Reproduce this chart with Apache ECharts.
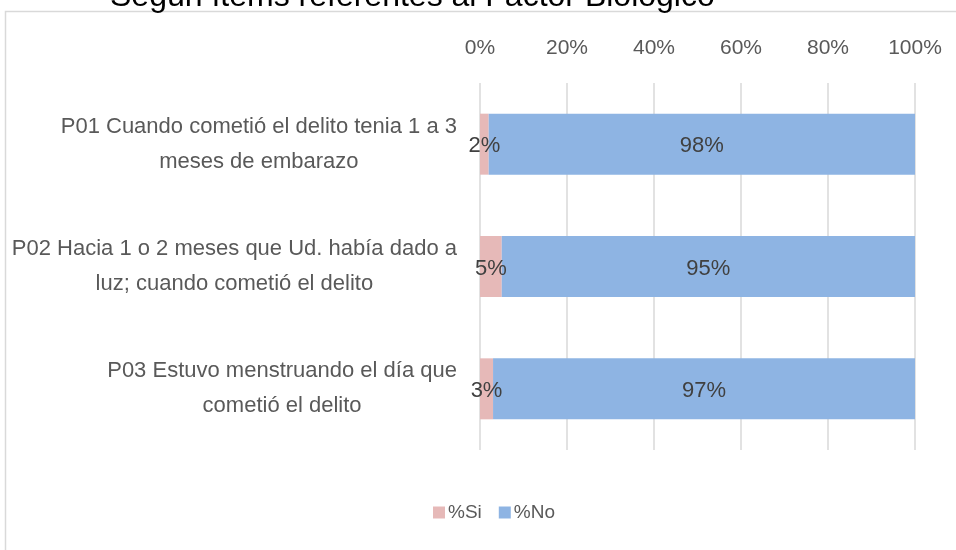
<!DOCTYPE html>
<html>
<head>
<meta charset="utf-8">
<script src="https://cdn.jsdelivr.net/npm/echarts@6/dist/echarts.min.js"></script>
<style>
  html, body { margin: 0; padding: 0; background: #fff; }
  #main { width: 956px; height: 550px; }
</style>
</head>
<body>
<div id="main"></div>
<script>
// datos del grafico
var preguntas = [
    'P01 Cuando cometió el delito tenia 1 a 3\nmeses de embarazo',
    'P02 Hacia 1 o 2 meses que Ud. había dado a\nluz; cuando cometió el delito',
    'P03 Estuvo menstruando el día que\ncometió el delito'
];
var valSi = [2, 5, 3];
var valNo = [98, 95, 97];
var nombres = ['%Si', '%No'];
var colores = ['#e6b9b8', '#8eb4e3'];

var fuente = '"Liberation Sans", Arial, sans-serif';
var mChart = echarts.init(document.getElementById('main'));

var option = {
    animation: false,
    title: {
        text: 'Según ítems referentes al Factor Biológico',
        left: 105,
        top: -24,
        textStyle: {
            fontFamily: fuente,
            fontSize: 32,
            fontWeight: 'normal',
            color: '#000'
        }
    },
    graphic: [{
        type: 'rect',
        shape: {x: 5.5, y: 11.5, width: 1000, height: 600},
        style: {fill: 'none', stroke: '#d9d9d9', lineWidth: 1.5},
        silent: true
    }],
    legend: {
        data: nombres,
        left: 428,
        top: 498,
        itemWidth: 12,
        itemHeight: 12,
        itemGap: 17,
        icon: 'rect',
        textStyle: {fontFamily: fuente, fontSize: 19, color: '#595959', padding: [0, 0, 0, -2]}
    },
    grid: {
        left: 480,
        right: 41,
        top: 83,
        bottom: 100,
        containLabel: false
    },
    xAxis: {
        type: 'value',
        position: 'top',
        min: 0,
        max: 100,
        interval: 20,
        axisLine: {show: false},
        axisTick: {show: false},
        axisLabel: {
            margin: 24,
            formatter: '{value}%',
            fontFamily: fuente,
            fontSize: 21,
            color: '#595959'
        },
        splitLine: {lineStyle: {color: '#d9d9d9', width: 1.5}}
    },
    yAxis: {
        type: 'category',
        inverse: true,
        data: preguntas,
        axisLine: {show: false},
        axisTick: {show: false},
        axisLabel: {
            margin: 23,
            formatter: function (v) {
                return v.split('\n').map(function (s) { return '{c|' + s + '}'; }).join('\n');
            },
            rich: {
                c: {
                    align: 'center',
                    fontFamily: fuente,
                    fontSize: 22,
                    lineHeight: 35,
                    color: '#595959'
                }
            }
        }
    },
    series: [{
        name: nombres[0],
        type: 'bar',
        stack: 'total',
        barWidth: 61,
        data: valSi,
        itemStyle: {color: colores[0]},
        label: {
            show: true,
            position: 'inside',
            offset: [0, 2],
            formatter: '{c}%',
            fontFamily: fuente,
            fontSize: 22,
            color: '#404040'
        }
    }, {
        name: nombres[1],
        type: 'bar',
        stack: 'total',
        barWidth: 61,
        data: valNo,
        itemStyle: {color: colores[1]},
        label: {
            show: true,
            position: 'inside',
            offset: [0, 2],
            formatter: '{c}%',
            fontFamily: fuente,
            fontSize: 22,
            color: '#404040'
        }
    }]
};
mChart.setOption(option);
</script>
</body>
</html>
